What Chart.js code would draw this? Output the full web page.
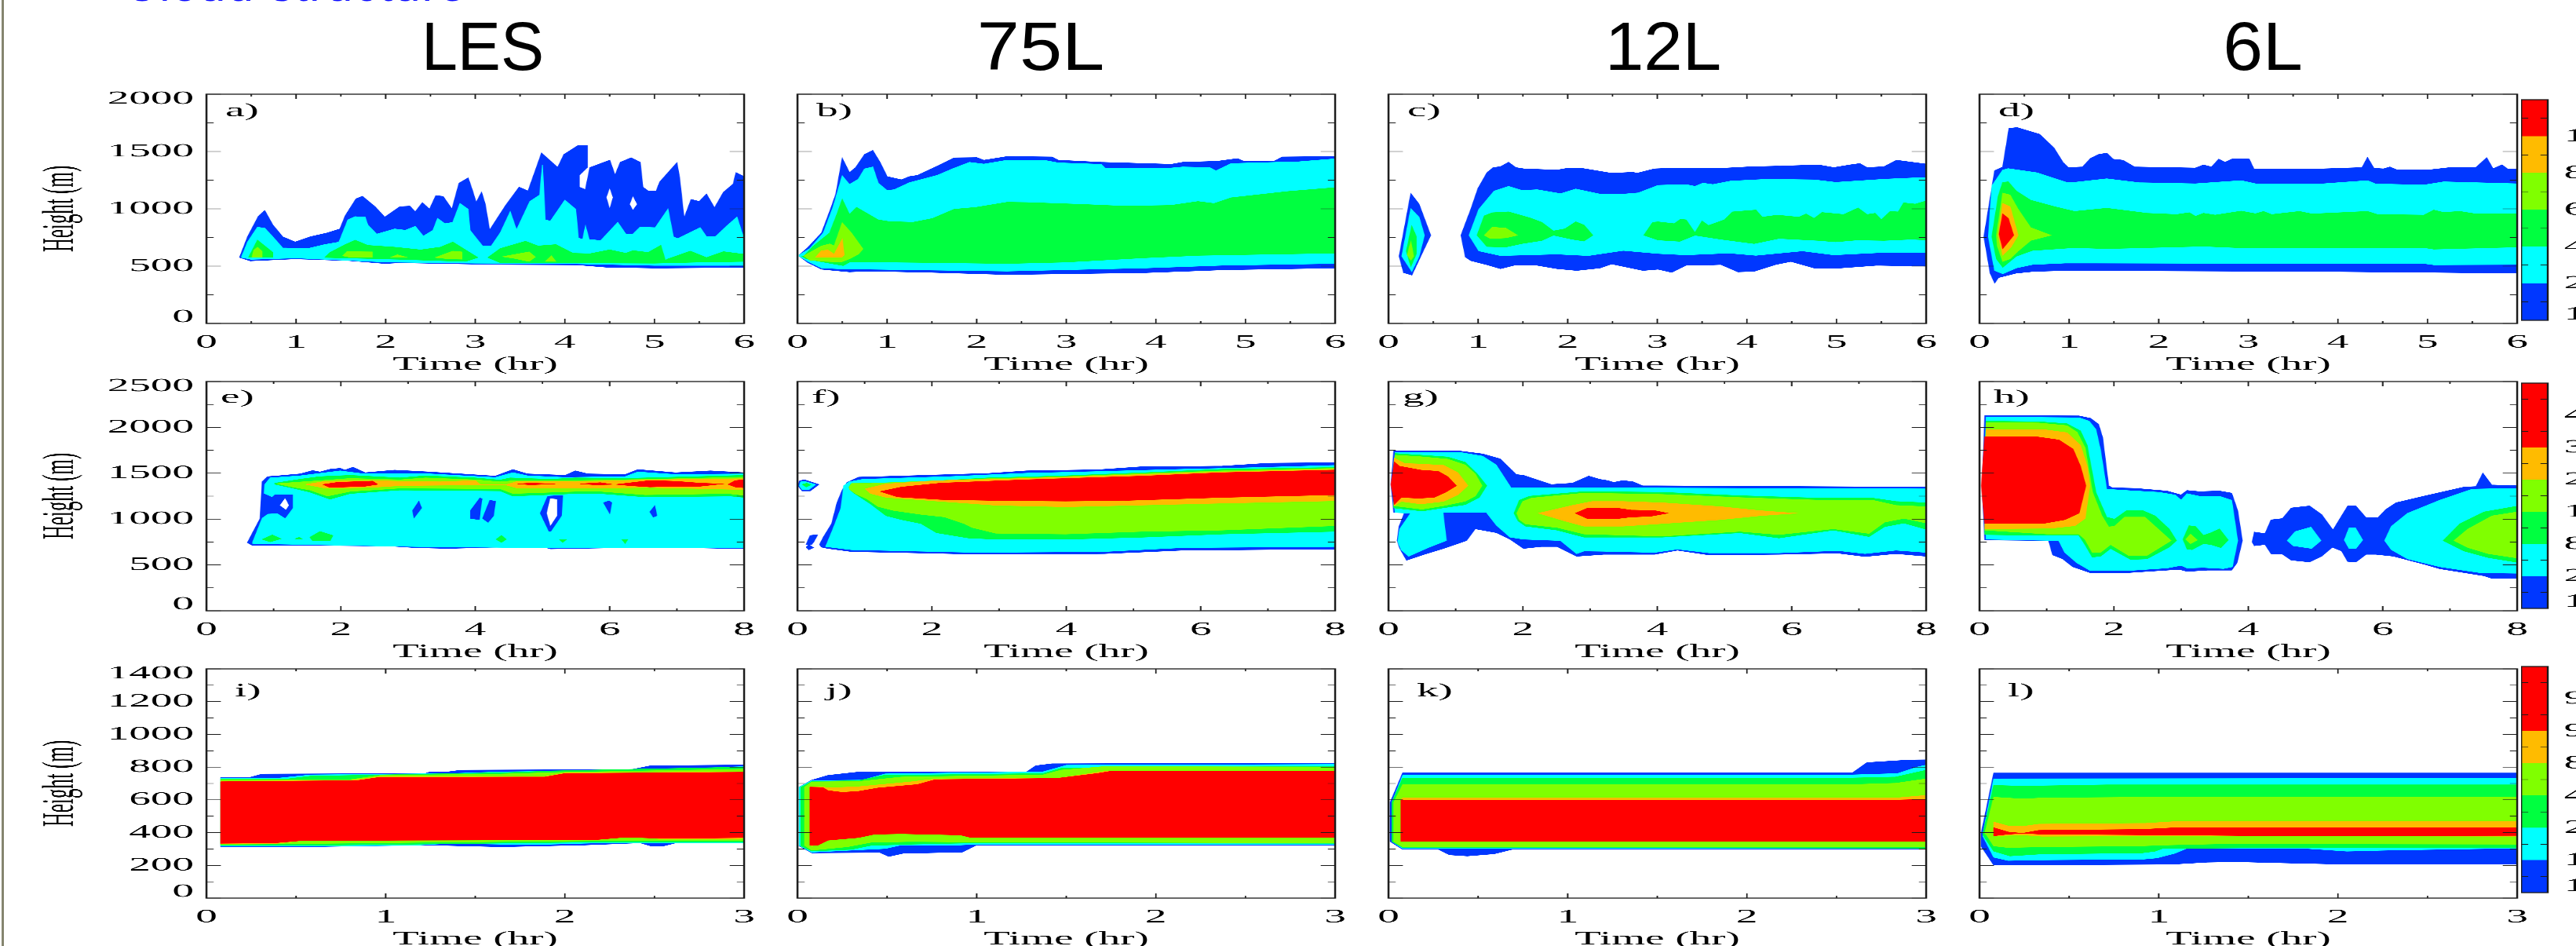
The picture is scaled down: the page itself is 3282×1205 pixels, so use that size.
<!DOCTYPE html>
<html>
<head>
<meta charset="utf-8">
<title>Cloud structure</title>
<script src="https://cdn.jsdelivr.net/npm/chart.js@4"></script>
<style>
  html, body { margin: 0; padding: 0; background: #fff; width: 3282px; height: 1205px; overflow: hidden; }
  canvas { position: absolute; transform-origin: 0 0; }
  .rule { position: absolute; left: 2px; top: 0; width: 3px; height: 1205px; background: #85856f; }
  .head { position: absolute; top: -49px; left: 158px; font: 60px/60px "Liberation Sans"; color: #0a0aff; white-space: nowrap; letter-spacing: 2px; }
  .col { position: absolute; top: 9px; font: 87px/100px "Liberation Sans"; color: #000; white-space: nowrap; }
</style>
</head>
<body>
<div class="rule"></div>
<div class="head">Cloud structure</div>
<div class="col" style="left:615px;transform:translateX(-50%) scaleX(0.95)">LES</div>
<div class="col" style="left:1326px;transform:translateX(-50%) scaleX(1.12)">75L</div>
<div class="col" style="left:2119px;transform:translateX(-50%) scaleX(1.02)">12L</div>
<div class="col" style="left:2883px;transform:translateX(-50%) scaleX(1.05)">6L</div>
<script>
// contour levels, low to high (0 is the white of the holes)
const levelColors = ['#ffffff', '#0037ff', '#00ffff', '#00ff40', '#80ff00', '#ffbb00', '#ff0000'];
const WHITE = 0, BLUE = 1, CYAN = 2, GREEN = 3, LIME = 4, ORANGE = 5, RED = 6;

// axis ticks per row
const timeTicks1 = [0, 1, 2, 3, 4, 5, 6];
const timeMinor1 = [0.5, 1.5, 2.5, 3.5, 4.5, 5.5];
const heightTicks1 = [0, 500, 1000, 1500, 2000];
const heightMinor1 = [250, 750, 1250, 1750];
const timeTicks2 = [0, 2, 4, 6, 8];
const timeMinor2 = [1, 3, 5, 7];
const heightTicks2 = [0, 500, 1000, 1500, 2000, 2500];
const heightMinor2 = [250, 750, 1250, 1750, 2250];
const timeTicks3 = [0, 1, 2, 3];
const timeMinor3 = [0.5, 1.5, 2.5];
const heightTicks3 = [0, 200, 400, 600, 800, 1000, 1200, 1400];
const heightMinor3 = [100, 300, 500, 700, 900, 1100, 1300];

// colour bars, first character only shows at the window edge
const barLabels1 = ['10', '20', '40', '60', '80', '100'];
const barTicks1 = [0.16, 1, 2, 3, 4, 5];
const barLevels1 = [BLUE, CYAN, GREEN, LIME, ORANGE, RED];
const barLabels2 = ['1', '2', '8', '10', '20', '30', '40'];
const barTicks2 = [0.21, 1, 2, 3, 4, 5, 6];
const barLevels2 = [BLUE, CYAN, GREEN, LIME, ORANGE, RED, RED];
const barLabels3 = ['1', '10', '20', '40', '80', '90', '95'];
const barTicks3 = [0.2, 1, 2, 3, 4, 5, 6];
const barLevels3 = [BLUE, CYAN, GREEN, LIME, ORANGE, RED, RED];

// a) LES
const aBlue = [[.37,575],[.46,757],[.58,935],[.65,985],[.74,860],[.85,757],[.99,711],[1.16,757],[1.35,791],[1.49,825],[1.55,940],[1.67,1088],[1.74,1110],[1.88,1020],[1.99,928],[2.16,1020],[2.27,1024],[2.33,974],[2.41,1054],[2.49,997],[2.56,1115],[2.64,1110],[2.74,997],[2.82,1225],[2.92,1270],[2.97,1156],[3.01,1054],[3.07,1145],[3.11,1042],[3.16,814],[3.34,1031],[3.49,1190],[3.59,1156],[3.74,1487],[3.92,1361],[3.99,1475],[4.15,1555],[4.25,1555],[4.25,1361],[4.16,1293],[4.16,1190],[4.23,1168],[4.28,1361],[4.5,1425],[4.56,1293],[4.62,1407],[4.74,1446],[4.84,1407],[4.87,1190],[4.93,1156],[5.02,1156],[5.06,1236],[5.25,1402],[5.28,1270],[5.33,917],[5.41,1083],[5.5,1065],[5.58,1129],[5.67,1008],[5.77,1145],[5.88,1218],[5.91,1316],[6,1282],[6,488],[5.02,483],[4.47,490],[4.13,511],[3.28,513],[2.16,529],[1.99,522],[1.6,547],[.99,563],[.49,545]];
const aHole1 = [[4.47,1100],[4.5,1167],[4.53,1100],[4.5,1020]];
const aHole2 = [[4.73,1040],[4.76,1100],[4.8,1040],[4.76,997]];
const aCyan = [[.39,575],[.46,711],[.57,841],[.65,832],[.74,757],[.85,659],[1.13,654],[1.32,689],[1.48,711],[1.58,905],[1.66,933],[1.77,928],[1.8,860],[1.9,780],[2.1,825],[2.22,814],[2.33,848],[2.42,762],[2.53,814],[2.58,917],[2.66,871],[2.75,883],[2.83,1047],[2.92,997],[2.94,814],[3.08,677],[3.18,677],[3.28,791],[3.39,974],[3.46,814],[3.61,1065],[3.72,1122],[3.75,1384],[3.78,905],[3.84,894],[4,1076],[4.12,997],[4.15,746],[4.2,734],[4.23,848],[4.27,734],[4.4,723],[4.59,882],[4.68,780],[4.76,780],[4.84,841],[5.01,837],[5.15,997],[5.21,757],[5.26,741],[5.51,837],[5.58,757],[5.68,757],[5.82,860],[5.92,928],[6,734],[6,505],[5,505],[4,522],[3,525],[2,535],[1,570],[.5,558]];
const aGreen1 = [[1.32,575],[1.38,620],[1.55,689],[1.66,727],[1.8,682],[2.1,666],[2.39,643],[2.61,666],[2.75,711],[2.89,643],[3.03,575],[2.89,540],[2.16,559]];
const aGreen2 = [[3.14,575],[3.28,654],[3.56,718],[3.7,677],[3.9,689],[4.09,613],[4.28,609],[4.5,643],[4.68,613],[4.76,636],[4.93,620],[5.07,682],[5.12,552],[5.15,563],[5.4,632],[5.58,575],[5.77,627],[6,604],[6,540],[5.5,534],[5,525],[3.84,529],[3.28,529]];
const aGreen3 = [[.47,575],[.57,727],[.74,620],[.74,575]];
const aLime1 = [[.51,577],[.53,640],[.57,665],[.62,630],[.62,577]];
const aLime2 = [[1.52,590],[1.57,627],[1.85,625],[1.85,577],[1.6,577]];
const aLime3 = [[2.05,575],[2.13,600],[2.25,575]];
const aLime4 = [[2.55,575],[2.75,632],[2.85,625],[2.85,560],[2.7,563]];
const aLime5 = [[3.3,583],[3.6,625],[3.67,580],[3.6,540],[3.45,565]];
const aLime6 = [[3.78,540],[3.85,590],[3.9,540]];

// b) 75L
const bBlue = [[.02,597],[.12,666],[.27,791],[.38,1019],[.43,1133],[.5,1441],[.58,1316],[.65,1361],[.75,1475],[.84,1510],[.92,1407],[1,1282],[1.16,1254],[1.25,1282],[1.34,1293],[1.56,1373],[1.75,1446],[2,1448],[2.08,1425],[2.34,1457],[2.84,1453],[2.91,1425],[3.39,1407],[4.17,1389],[4.3,1407],[4.69,1416],[4.91,1439],[4.98,1416],[5.32,1416],[5.41,1453],[6,1457],[6,483],[4.74,467],[3.87,442],[2.34,426],[1.47,445],[.81,456],[.58,449],[.27,472],[.12,529],[.02,586]];
const bCyan = [[.02,597],[.14,655],[.29,791],[.4,1019],[.5,1288],[.58,1213],[.68,1259],[.75,1350],[.84,1366],[.9,1225],[1,1161],[1.08,1168],[1.25,1229],[1.56,1293],[1.73,1350],[1.92,1407],[2.08,1391],[2.34,1425],[2.75,1425],[2.91,1402],[3.39,1389],[3.43,1357],[4.17,1357],[4.3,1366],[4.6,1361],[4.67,1332],[4.84,1396],[5.6,1412],[6,1437],[6,522],[4.74,506],[3.87,483],[2.34,456],[1.47,465],[.81,472],[.58,472],[.27,483],[.12,540],[.02,586]];
const bGreen = [[.07,586],[.18,677],[.36,791],[.44,951],[.5,1083],[.58,951],[.66,1013],[.9,905],[1.03,889],[1.29,883],[1.51,917],[1.75,997],[1.99,1013],[2.34,1058],[2.56,1056],[3.21,1038],[3.65,1024],[4.17,1031],[4.47,1065],[4.65,1047],[4.84,1097],[5.47,1152],[6,1186],[6,613],[4.47,593],[3.87,572],[2.99,534],[2.34,522],[1.47,531],[.81,536],[.58,534],[.51,504],[.25,540],[.1,563],[.05,586]];
const bLime = [[.07,590],[.27,677],[.36,695],[.41,677],[.5,878],[.6,791],[.73,650],[.68,604],[.58,563],[.49,536],[.31,540],[.14,552]];
const bOrange = [[.2,575],[.27,636],[.34,641],[.41,604],[.5,734],[.52,597],[.49,575]];

// c) 12L
const cBlue1 = [[.12,586],[.25,1133],[.34,1042],[.47,769],[.4,654],[.26,422],[.17,442]];
const cCyan1 = [[.15,586],[.25,1001],[.34,928],[.4,769],[.34,586],[.26,454]];
const cGreen1 = [[.2,631],[.26,848],[.31,757],[.31,608],[.25,499]];
const cLime1 = [[.21,597],[.25,711],[.28,586],[.25,552]];
const cBlue2 = [[.81,769],[.92,997],[1,1179],[1.1,1316],[1.17,1361],[1.25,1368],[1.34,1407],[1.42,1361],[1.51,1350],[1.88,1339],[2.01,1357],[2.14,1357],[2.49,1311],[2.73,1320],[2.77,1311],[2.97,1350],[3.19,1357],[3.49,1357],[3.71,1354],[4.06,1368],[4.32,1373],[4.8,1384],[4.97,1361],[5.15,1384],[5.26,1396],[5.34,1361],[5.53,1368],[5.67,1425],[6,1391],[6,499],[5.45,506],[4.97,479],[4.75,483],[4.49,540],[4.32,513],[4.08,454],[3.9,449],[3.71,513],[3.45,506],[3.32,506],[3.16,445],[3.01,472],[2.84,461],[2.49,518],[2.36,483],[2.1,461],[1.88,477],[1.66,506],[1.4,506],[1.25,477],[1.1,511],[.92,547],[.86,579]];
const cCyan2 = [[.9,769],[1.01,997],[1.18,1156],[1.34,1197],[1.49,1161],[1.66,1168],[1.92,1133],[2.09,1174],[2.36,1129],[2.62,1129],[2.79,1140],[3.01,1206],[3.32,1213],[3.42,1197],[3.51,1225],[3.62,1213],[3.82,1243],[4.23,1259],[4.75,1254],[4.99,1232],[5.53,1259],[6,1275],[6,620],[5.45,616],[4.97,597],[4.62,632],[4.1,593],[3.8,613],[3.32,597],[3.01,609],[2.62,636],[2.23,591],[1.88,604],[1.25,591],[1.01,632]];
const cGreen2 = [[.99,769],[1.07,940],[1.16,967],[1.34,974],[1.58,921],[1.71,883],[1.84,807],[1.97,826],[2.09,887],[2.18,860],[2.28,769],[2.18,718],[2.05,734],[1.84,769],[1.71,723],[1.49,696],[1.31,666],[1.1,670]];
const cGreen3 = [[2.85,769],[2.95,883],[3.01,887],[3.19,871],[3.26,910],[3.32,905],[3.42,791],[3.5,894],[3.57,855],[3.75,905],[3.84,974],[4.1,990],[4.17,928],[4.34,946],[4.58,928],[4.66,956],[4.75,917],[4.84,969],[5.08,951],[5.24,1008],[5.34,951],[5.43,962],[5.5,905],[5.6,978],[5.69,974],[5.75,1053],[5.88,1042],[6,1070],[6,727],[5.84,734],[5.53,723],[5.23,727],[4.99,711],[4.8,723],[4.36,741],[4.08,696],[3.71,734],[3.42,769],[3.25,716],[3.01,727]];
const cLime2 = [[1.07,769],[1.16,841],[1.31,832],[1.44,769],[1.31,746],[1.14,739]];

// d) 6L
const dBlue = [[.05,757],[.17,1334],[.26,1366],[.33,1703],[.42,1710],[.67,1651],[.83,1532],[.93,1407],[.99,1361],[1.15,1366],[1.24,1441],[1.33,1475],[1.42,1487],[1.49,1434],[1.6,1425],[1.73,1366],[2.41,1357],[2.5,1384],[2.59,1366],[2.67,1434],[2.74,1407],[2.83,1439],[3.01,1434],[3.06,1350],[3.84,1350],[4.27,1361],[4.33,1448],[4.4,1355],[4.51,1350],[4.58,1366],[4.65,1343],[5,1339],[5.25,1361],[5.54,1361],[5.66,1446],[5.73,1350],[5.83,1384],[5.89,1350],[6,1350],[6,438],[5,445],[3.66,454],[.97,461],[.61,454],[.41,438],[.21,399],[.17,353],[.12,438]];
const dCyan = [[.1,757],[.14,1202],[.26,1339],[.32,1352],[.64,1316],[.97,1232],[1.06,1232],[1.42,1263],[1.78,1229],[2.41,1220],[2.92,1247],[3.08,1220],[3.84,1220],[4.33,1247],[4.42,1218],[4.96,1209],[5.18,1236],[6,1220],[6,513],[5.07,511],[4.96,522],[3.66,522],[.97,527],[.59,513],[.41,483],[.26,433],[.17,461]];
const dGreen = [[.14,757],[.21,1111],[.26,1232],[.32,1236],[.41,1156],[.57,1076],[.84,1019],[1.06,978],[1.42,1006],[1.87,962],[2.2,951],[2.34,967],[2.41,935],[2.5,962],[2.63,946],[2.92,981],[3.08,958],[3.17,978],[3.26,951],[3.57,978],[3.71,956],[4.33,978],[4.44,951],[4.96,946],[5.07,990],[5.18,969],[5.36,978],[5.54,956],[6,958],[6,666],[5.07,648],[4.96,661],[3.66,659],[2.92,659],[2.5,673],[1.42,652],[1.06,661],[.59,636],[.41,586],[.26,490],[.19,563]];
const dLime = [[.19,769],[.26,1138],[.34,1122],[.43,997],[.57,837],[.8,769],[.57,723],[.43,631],[.34,563],[.26,540],[.2,677]];
const dOrange = [[.21,769],[.26,1047],[.34,1019],[.43,769],[.35,666],[.26,597]];
const dRed = [[.22,780],[.26,955],[.32,917],[.38,769],[.32,711],[.26,654]];

// e) LES
const eBlue = [[.61,742],[.8,1007],[.83,1407],[.91,1464],[1.02,1470],[1.39,1493],[1.58,1530],[1.69,1515],[1.84,1544],[1.99,1555],[2.06,1535],[2.18,1567],[2.36,1507],[2.8,1535],[3.33,1515],[4.3,1470],[4.56,1541],[4.78,1493],[5.34,1478],[5.49,1527],[5.68,1493],[6.23,1487],[6.42,1541],[6.98,1507],[7.5,1527],[8,1507],[8,676],[6.7,694],[5.12,674],[4.97,705],[3.6,679],[3.1,688],[2.73,705],[1.02,716],[.69,711]];
const eCyan = [[.69,750],[.83,1007],[.87,1378],[.95,1450],[1.39,1473],[1.99,1527],[2.36,1493],[3.33,1493],[4.3,1455],[4.56,1507],[4.78,1473],[5.34,1455],[6.23,1464],[6.42,1515],[6.98,1487],[8,1493],[8,688],[5.12,685],[3.1,699],[1.02,728],[.69,733]];
const eBlob1 = [[.81,1007],[.85,1278],[.98,1236],[1.02,1264],[1.28,1264],[1.28,1121],[1.17,1013],[1.06,1064],[.91,1059]];
const eHole1 = [[1.1,1150],[1.17,1221],[1.22,1150],[1.18,1107]];
const eBlob2 = [[3.07,1093],[3.16,1193],[3.2,1121],[3.09,1016]];
const eBlob3 = [[3.93,1093],[4.07,1230],[4.1,1221],[4.07,1079],[4.06,993],[3.93,1007]];
const eBlob4 = [[4.11,1007],[4.22,1207],[4.3,1193],[4.27,1036],[4.19,965]];
const eBlob5 = [[5.1,865],[4.97,1064],[5.08,1250],[5.3,1258],[5.28,1036],[5.12,865]];
const eHole2 = [[5.07,1064],[5.12,1221],[5.21,1216],[5.21,1036],[5.12,936]];
const eBlob6 = [[5.91,1179],[5.99,1199],[6.03,1179],[6,1064]];
const eBlob7 = [[6.6,1079],[6.67,1144],[6.7,1036],[6.65,1022]];
const eSpot1 = [[.83,779],[.98,828],[1.11,785],[.95,751]];
const eSpot2 = [[1.32,785],[1.38,802],[1.43,779]];
const eSpot3 = [[1.54,802],[1.69,865],[1.88,822],[1.84,765],[1.58,765]];
const eSpot4 = [[4.31,779],[4.39,822],[4.46,779],[4.39,745]];
const eSpot5 = [[5.25,779],[5.36,779],[5.3,745]];
const eSpot6 = [[6.18,779],[6.27,779],[6.23,736]];
const eGreen = [[1.02,1393],[1.39,1435],[1.69,1464],[2.14,1478],[2.88,1450],[3.26,1473],[4,1450],[4.37,1427],[4.52,1450],[5.12,1435],[5.49,1450],[6.23,1444],[6.98,1458],[8,1478],[8,1236],[7.8,1250],[6.53,1241],[5.86,1278],[5.49,1278],[4.56,1250],[4.37,1307],[2.88,1316],[2.14,1278],[1.84,1216],[1.54,1293],[1.24,1344],[1.02,1378]];
const eLime = [[1.04,1387],[1.54,1413],[2.14,1444],[2.88,1430],[3.26,1450],[4,1430],[4.37,1407],[4.6,1421],[5.49,1421],[6.6,1435],[8,1458],[8,1259],[7.76,1278],[6.53,1264],[5.86,1301],[5.49,1301],[4.56,1278],[4.37,1330],[2.88,1336],[2.14,1301],[1.8,1250],[1.54,1316],[1.24,1355]];
const eOrange = [[1.47,1378],[1.77,1413],[2.44,1421],[2.88,1413],[3.48,1407],[4,1421],[4.07,1378],[4.45,1373],[4.63,1413],[5.49,1407],[6.6,1430],[8,1441],[8,1321],[6.6,1344],[5.49,1336],[4.63,1336],[4.45,1373],[4.07,1373],[2.88,1364],[2.44,1344],[1.77,1336]];
const eRed1 = [[1.73,1378],[1.95,1401],[2.47,1415],[2.55,1378],[2.36,1358],[1.84,1344]];
const eRed2 = [[4.63,1384],[4.82,1393],[5.19,1384],[4.82,1373]];
const eRed3 = [[5.56,1384],[5.86,1398],[6.05,1378],[5.79,1373]];
const eRed4 = [[6.09,1378],[6.6,1421],[6.98,1413],[7.35,1393],[7.68,1384],[7.35,1358],[6.98,1358],[6.6,1350],[6.3,1364]];
const eRed5 = [[7.76,1378],[7.87,1421],[8,1430],[8,1341],[7.87,1350]];

// f) 75L
const fBlue1 = [[.03,1416],[.1,1430],[.32,1378],[.19,1307],[.07,1307],[.01,1364]];
const fCyan1 = [[.05,1407],[.1,1413],[.27,1378],[.17,1321],[.07,1321],[.03,1364]];
const fGreen1 = [[.07,1378],[.14,1393],[.2,1373],[.13,1350]];
const fBlue2 = [[.13,722],[.19,822],[.3,830],[.24,750],[.21,722]];
const fBlue3 = [[.13,693],[.17,722],[.24,688],[.17,665]];
const fBlue4 = [[.33,722],[.39,808],[.51,950],[.59,1179],[.67,1321],[.74,1401],[.91,1458],[1.49,1470],[2.83,1498],[3.41,1527],[4.46,1538],[5.1,1570],[6.32,1578],[7.01,1610],[8,1615],[8,673],[5.73,659],[4.57,622],[3.41,616],[2.66,616],[1.96,628],[.8,645],[.45,679],[.36,693]];
const fCyan2 = [[.42,699],[.53,893],[.65,1122],[.69,1364],[.77,1407],[.97,1435],[2.25,1464],[3.41,1501],[4.57,1521],[5.73,1544],[6.9,1564],[8,1587],[8,699],[5.73,688],[4.57,645],[2.66,636],[.8,665]];
const fGreen2 = [[.77,1350],[.8,1387],[1.09,1393],[1.67,1401],[2.83,1450],[3.99,1473],[5.15,1507],[6.32,1544],[8,1564],[8,865],[6.32,836],[5.15,802],[3.99,779],[2.95,779],[2.54,793],[2.07,850],[1.84,950],[1.55,993],[1.32,1036],[1.09,1164],[.85,1278],[.78,1321]];
const fLime = [[.77,1350],[.81,1390],[1.09,1390],[1.67,1407],[2.83,1441],[3.99,1464],[5.15,1498],[6.32,1527],[8,1555],[8,927],[6.32,879],[5.15,865],[3.99,836],[2.95,845],[2.6,907],[2.48,950],[2.19,1022],[1.84,1050],[1.43,1093],[1.2,1136],[1.03,1221],[.88,1270],[.78,1321]];
const fOrange = [[1.01,1330],[1.32,1384],[2.13,1421],[3.41,1444],[5.15,1487],[6.32,1515],[8,1544],[8,1199],[6.32,1173],[3.99,1133],[2.95,1150],[2.13,1193],[1.32,1236],[1.09,1278]];
const fRed = [[1.23,1301],[1.55,1350],[2.13,1393],[3.41,1430],[5.15,1470],[6.32,1507],[8,1535],[8,1264],[6.32,1236],[4.87,1202],[3.99,1196],[2.95,1202],[2.13,1213],[1.49,1241]];

// g) 12L
const gBlue = [[.04,1378],[.08,1744],[1.05,1744],[1.4,1712],[1.66,1658],[1.9,1487],[2.01,1478],[2.42,1378],[2.74,1393],[2.98,1470],[3.14,1435],[3.26,1421],[3.35,1401],[3.49,1421],[3.64,1407],[3.78,1364],[8,1350],[8,594],[7.55,622],[7.09,591],[6.68,628],[5.81,614],[4.77,608],[4.3,659],[3.96,614],[3.2,614],[2.8,594],[2.51,699],[2.27,699],[2.01,679],[1.81,779],[1.61,850],[1.29,893],[1.16,765],[.82,679],[.53,614],[.27,551],[.17,679],[.13,765],[.16,922],[.24,1070],[.08,1070]];
const gCyan = [[.06,1378],[.1,1730],[1.05,1730],[1.4,1687],[1.6,1592],[1.82,1344],[8,1330],[8,636],[7.55,659],[7.09,622],[6.68,656],[5.81,631],[4.77,631],[4.3,671],[3.96,636],[3.2,648],[2.91,651],[2.8,622],[2.56,765],[2.01,779],[1.81,802],[1.61,930],[1.46,1070],[.81,1070],[.86,765],[.59,688],[.3,594],[.19,665],[.14,756],[.17,893],[.33,1064],[.1,1070]];
const gGreen1 = [[.08,1378],[.1,1716],[.48,1698],[.88,1678],[1.14,1621],[1.32,1493],[1.46,1364],[1.35,1236],[1.14,1156],[.82,1122],[.5,1087],[.08,1121]];
const gGreen2 = [[1.87,1064],[1.95,1207],[2.1,1250],[2.91,1301],[4.07,1293],[5.23,1256],[6.39,1230],[7.2,1230],[7.55,1193],[8,1179],[8,888],[7.67,956],[7.38,916],[7.15,808],[6.62,879],[5.81,793],[5.23,850],[4.07,802],[2.91,802],[2.51,879],[2.04,922],[1.93,979]];
const gLime1 = [[.08,1378],[.1,1698],[.48,1681],[.88,1655],[1.14,1592],[1.29,1493],[1.39,1364],[1.29,1250],[1.14,1193],[.82,1144],[.5,1107],[.08,1144]];
const gLime2 = [[1.91,1064],[2,1193],[2.13,1230],[2.91,1284],[4.07,1270],[5.23,1236],[6.39,1207],[7.2,1207],[7.55,1150],[8,1136],[8,956],[7.67,1007],[7.38,965],[7.15,842],[6.62,893],[5.81,830],[5.23,865],[4.07,813],[2.91,836],[2.51,907],[2.04,945],[1.95,993]];
const gOrange1 = [[.05,1378],[.09,1664],[.24,1607],[.48,1601],[.82,1587],[1.03,1507],[1.18,1364],[1.03,1264],[.82,1193],[.48,1164],[.19,1193],[.09,1150]];
const gRed1 = [[.04,1378],[.09,1621],[.16,1578],[.48,1535],[.74,1521],[.88,1464],[1.01,1364],[.85,1293],[.68,1236],[.45,1227],[.19,1236],[.09,1164]];
const gOrange2 = [[2.23,1064],[2.74,1150],[3.03,1193],[3.49,1193],[4.07,1179],[4.94,1136],[5.52,1093],[6.07,1064],[5.52,1036],[4.94,993],[4.07,950],[3.49,922],[2.91,922],[2.62,979]];
const gRed2 = [[2.78,1064],[2.97,1122],[3.38,1122],[3.61,1099],[3.96,1093],[4.16,1064],[3.9,1030],[3.61,1022],[3.38,1002],[2.97,1002]];

// h) 6L
const hBlue1 = [[.04,1350],[.08,2129],[1.48,2126],[1.65,2100],[1.77,2035],[1.83,1892],[1.92,1364],[1.98,1341],[2.31,1336],[2.79,1307],[3,1264],[3.09,1313],[3.27,1301],[3.57,1307],[3.75,1284],[3.84,1093],[3.91,765],[3.83,522],[3.75,442],[3.39,442],[3.09,428],[2.97,451],[2.79,442],[2.19,414],[1.65,414],[1.39,479],[1.24,565],[1.09,608],[1.03,765],[.08,771]];
const hCyan1 = [[.07,1350],[.1,2115],[1.48,2106],[1.63,2069],[1.73,1978],[1.8,1749],[1.89,1327],[2.13,1316],[2.67,1293],[2.91,1264],[3,1207],[3.09,1278],[3.27,1250],[3.57,1250],[3.75,1207],[3.84,765],[3.76,479],[3.63,459],[3.33,471],[3.09,465],[3,494],[2.79,465],[2.19,437],[1.65,437],[1.45,522],[1.27,636],[1.18,765],[.1,779]];
const hGreen1 = [[.08,1350],[.1,2069],[.88,2063],[1.3,2041],[1.5,1963],[1.6,1806],[1.73,1293],[1.89,1022],[2.01,999],[2.19,1093],[2.43,1093],[2.61,1036],[2.82,893],[2.93,765],[2.82,693],[2.49,565],[2.25,559],[1.95,679],[1.8,594],[1.68,585],[1.57,722],[1.48,822],[1,822],[.08,830]];
const hLime1 = [[.08,1350],[.1,2055],[.88,2049],[1.3,2021],[1.45,1949],[1.57,1778],[1.68,1293],[1.82,1036],[1.92,916],[2.01,922],[2.16,1022],[2.46,1022],[2.85,765],[2.49,602],[2.22,602],[1.95,722],[1.8,636],[1.68,636],[1.57,779],[1.48,836],[1,836],[.08,879]];
const hOrange = [[.08,1350],[.1,1978],[.94,1978],[1.3,1943],[1.5,1806],[1.6,1578],[1.64,1364],[1.57,1007],[1.42,927],[1.06,899],[.08,893]];
const hRed = [[.03,1364],[.08,1901],[.82,1901],[1.18,1864],[1.39,1764],[1.5,1578],[1.58,1364],[1.48,1064],[1.27,993],[.94,950],[.08,950]];
const hGreen2 = [[3.03,779],[3.12,928],[3.21,922],[3.33,822],[3.44,850],[3.57,893],[3.7,771],[3.59,688],[3.44,722],[3.33,731],[3.16,665],[3.09,673]];
const hLime2 = [[3.07,779],[3.14,836],[3.24,771],[3.14,731]];
const hBlue2 = [[4.06,750],[4.09,859],[4.25,842],[4.34,993],[4.51,1007],[4.64,1122],[4.91,1144],[5.09,1050],[5.26,879],[5.39,1036],[5.48,1142],[5.6,1142],[5.75,1016],[5.93,1016],[6.05,1107],[6.2,1179],[6.61,1250],[7.21,1350],[7.39,1356],[7.49,1501],[7.62,1373],[8,1364],[8,351],[7.63,351],[7.51,380],[6.85,457],[6.61,508],[6.16,594],[5.9,614],[5.75,614],[5.6,531],[5.48,537],[5.39,651],[5.25,693],[5.09,594],[4.91,531],[4.64,551],[4.51,616],[4.34,622],[4.25,722],[4.09,708]];
const hCyan2 = [[4.58,765],[4.7,865],[4.93,913],[5.08,765],[4.94,679],[4.67,708]];
const hCyan3 = [[5.43,771],[5.5,902],[5.59,908],[5.7,771],[5.6,679],[5.5,679]];
const hCyan4 = [[6.03,765],[6.13,922],[6.37,1064],[6.85,1207],[7.33,1327],[8,1336],[8,408],[7.45,414],[6.85,479],[6.37,565],[6.13,665]];
const hGreen3 = [[6.9,765],[7.15,950],[7.51,1079],[8,1142],[8,528],[7.57,579],[7.21,651]];
const hLime3 = [[7.06,765],[7.27,893],[7.63,1036],[8,1079],[8,574],[7.57,622],[7.27,688]];

// i) LES
const iBlue = [[.08,737],[.24,737],[.31,758],[1.22,761],[1.25,772],[1.33,769],[1.42,782],[2.37,785],[2.48,809],[3,813],[3,337],[2.62,337],[2.55,318],[2.48,318],[2.42,337],[2.11,324],[1.65,313],[1.22,324],[.52,312],[.08,312]];
const iCyan = [[.08,732],[.41,734],[.58,753],[1.36,761],[1.65,772],[2.39,782],[2.62,788],[3,804],[3,337],[2.2,337],[1.92,329],[1.64,329],[1.36,334],[1.14,321],[.08,316]];
const iGreen = [[.08,727],[.44,727],[.58,745],[1.22,758],[1.64,766],[1.92,777],[3,801],[3,342],[2.2,342],[1.14,329],[.47,321],[.08,321]];
const iLime = [[.08,724],[.8,724],[.97,750],[1.64,758],[2,769],[3,788],[3,350],[2.2,350],[1.22,340],[.52,332],[.08,328]];
const iOrange = [[.08,714],[.8,718],[.96,740],[1.89,743],[2,764],[3,772],[3,366],[2.95,360],[2.56,360],[2.34,377],[2.17,360],[.52,350],[.38,332],[.08,332]];
const iRed = [[.08,711],[.84,718],[.96,737],[1.89,740],[2,761],[3,769],[3,369],[2.56,364],[2.34,372],[2.17,356],[1.08,353],[.52,350],[.38,337],[.08,334]];

// j) 75L
const jBlue = [[.01,678],[.08,721],[.17,750],[.33,769],[1.28,772],[1.33,809],[1.42,821],[3,825],[3,324],[1,324],[.92,281],[.59,273],[.51,254],[.46,278],[.08,276],[.01,318]];
const jCyan = [[.01,678],[.08,718],[.36,721],[.49,759],[1.37,772],[1.44,793],[1.5,812],[3,817],[3,329],[1,329],[.91,324],[.58,324],[.49,302],[.08,280],[.01,321]];
const jGreen = [[.02,678],[.08,713],[.34,718],[.48,750],[1.37,761],[1.47,793],[3,806],[3,334],[1,337],[.63,329],[.41,321],[.3,297],[.08,287],[.02,318]];
const jLime = [[.04,678],[.08,710],[.34,713],[.58,740],[1.37,753],[1.47,782],[1.71,804],[3,801],[3,337],[1,342],[.63,345],[.41,340],[.28,313],[.08,292],[.04,321]];
const jOrange = [[.07,681],[.14,681],[.17,673],[.34,681],[.63,710],[.71,721],[.78,729],[1.45,732],[1.71,774],[3,777],[3,369],[.97,369],[.86,398],[.58,409],[.43,401],[.34,372],[.17,353],[.08,318]];
const jRed = [[.07,678],[.14,676],[.17,657],[.25,646],[.34,652],[.45,673],[.67,694],[.77,724],[1.45,732],[1.67,761],[1.74,774],[3,777],[3,369],[.97,369],[.91,385],[.58,393],[.43,390],[.34,369],[.17,353],[.11,321],[.07,321]];

// k) 12L
const kBlue = [[.01,585],[.08,766],[2.59,766],[2.67,828],[2.9,844],[3,845],[3,297],[.69,297],[.59,270],[.44,257],[.34,264],[.28,297],[.08,297],[.01,345]];
const kCyan = [[.02,585],[.08,750],[2.59,753],[2.84,761],[2.95,801],[3,813],[3,302],[.08,302],[.02,345]];
const kGreen = [[.02,585],[.08,734],[2.59,734],[2.83,740],[3,782],[3,305],[.08,308],[.02,345]];
const kLime = [[.03,585],[.08,694],[2.59,694],[2.83,702],[3,729],[3,313],[.08,313],[.03,345]];
const kOrange = [[.07,601],[.08,612],[2.83,612],[3,628],[3,345],[.07,345]];
const kRed = [[.07,598],[2.83,599],[3,604],[3,345],[.07,345]];

// l) 6L
const lBlue = [[.01,396],[.08,764],[3,764],[3,206],[2.05,206],[1.61,217],[1.43,222],[1.27,219],[1.07,206],[.08,201],[.01,316]];
const lCyan = [[.02,396],[.08,729],[3,732],[3,305],[2.28,292],[2.05,286],[1.83,302],[1.16,305],[1.09,273],[.99,245],[.91,237],[.35,233],[.16,229],[.08,249],[.02,377]];
const lGreen = [[.02,396],[.08,689],[.24,684],[.71,692],[3,692],[3,308],[1.61,308],[1.02,302],[.98,286],[.91,276],[.33,268],[.17,257],[.08,286],[.02,385]];
const lLime = [[.03,396],[.08,617],[.24,606],[.35,612],[.93,617],[3,618],[3,329],[1.38,332],[1.05,324],[.89,318],[.35,313],[.16,308],[.08,318],[.04,385]];
const lOrange = [[.08,465],[.16,441],[.24,438],[.33,452],[.93,457],[1.09,468],[3,468],[3,377],[1.61,380],[.93,380],[.35,377],[.24,385],[.08,380]];
const lRed = [[.08,430],[.16,404],[.24,396],[.33,414],[.91,420],[1.09,430],[3,430],[3,382],[1.61,380],[1.09,385],[.35,390],[.24,396],[.16,390],[.08,380]];

// paint order, later entries lie on top
const panels = {
  a: [[BLUE,aBlue],[WHITE,aHole1],[WHITE,aHole2],[CYAN,aCyan],[GREEN,aGreen1],[GREEN,aGreen2],[GREEN,aGreen3],[LIME,aLime1],[LIME,aLime2],[LIME,aLime3],[LIME,aLime4],[LIME,aLime5],[LIME,aLime6]],
  b: [[BLUE,bBlue],[CYAN,bCyan],[GREEN,bGreen],[LIME,bLime],[ORANGE,bOrange]],
  c: [[BLUE,cBlue1],[CYAN,cCyan1],[GREEN,cGreen1],[LIME,cLime1],[BLUE,cBlue2],[CYAN,cCyan2],[GREEN,cGreen2],[GREEN,cGreen3],[LIME,cLime2]],
  d: [[BLUE,dBlue],[CYAN,dCyan],[GREEN,dGreen],[LIME,dLime],[ORANGE,dOrange],[RED,dRed]],
  e: [[BLUE,eBlue],[CYAN,eCyan],[BLUE,eBlob1],[WHITE,eHole1],[BLUE,eBlob2],[BLUE,eBlob3],[BLUE,eBlob4],[BLUE,eBlob5],[WHITE,eHole2],[BLUE,eBlob6],[BLUE,eBlob7],[GREEN,eSpot1],[GREEN,eSpot2],[GREEN,eSpot3],[GREEN,eSpot4],[GREEN,eSpot5],[GREEN,eSpot6],[GREEN,eGreen],[LIME,eLime],[ORANGE,eOrange],[RED,eRed1],[RED,eRed2],[RED,eRed3],[RED,eRed4],[RED,eRed5]],
  f: [[BLUE,fBlue1],[CYAN,fCyan1],[GREEN,fGreen1],[BLUE,fBlue2],[BLUE,fBlue3],[BLUE,fBlue4],[CYAN,fCyan2],[GREEN,fGreen2],[LIME,fLime],[ORANGE,fOrange],[RED,fRed]],
  g: [[BLUE,gBlue],[CYAN,gCyan],[GREEN,gGreen1],[GREEN,gGreen2],[LIME,gLime1],[LIME,gLime2],[ORANGE,gOrange1],[RED,gRed1],[ORANGE,gOrange2],[RED,gRed2]],
  h: [[BLUE,hBlue1],[CYAN,hCyan1],[GREEN,hGreen1],[LIME,hLime1],[ORANGE,hOrange],[RED,hRed],[GREEN,hGreen2],[LIME,hLime2],[BLUE,hBlue2],[CYAN,hCyan2],[CYAN,hCyan3],[CYAN,hCyan4],[GREEN,hGreen3],[LIME,hLime3]],
  i: [[BLUE,iBlue],[CYAN,iCyan],[GREEN,iGreen],[LIME,iLime],[ORANGE,iOrange],[RED,iRed]],
  j: [[BLUE,jBlue],[CYAN,jCyan],[GREEN,jGreen],[LIME,jLime],[ORANGE,jOrange],[RED,jRed]],
  k: [[BLUE,kBlue],[CYAN,kCyan],[GREEN,kGreen],[LIME,kLime],[ORANGE,kOrange],[RED,kRed]],
  l: [[BLUE,lBlue],[CYAN,lCyan],[GREEN,lGreen],[LIME,lLime],[ORANGE,lOrange],[RED,lRed]]
};

// page layout, the original is stretched sideways so canvases are too
const STRETCH = 945 / 412;
const LOGICAL_W = 412;
const PLOT_W = 685 / STRETCH;
const PAD_LEFT = 220 / STRETCH;
const FONT = 'Liberation Serif';
const colLeft = [263, 1016, 1769, 2522];
const rows = [
  { top: 120, h: 292, xMax: 6, yMax: 2000, xTicks: timeTicks1, xMinor: timeMinor1, yTicks: heightTicks1, yMinor: heightMinor1, names: 'abcd', dx: 24, baseline: 28 },
  { top: 486, h: 292, xMax: 8, yMax: 2500, xTicks: timeTicks2, xMinor: timeMinor2, yTicks: heightTicks2, yMinor: heightMinor2, names: 'efgh', dx: 18, baseline: 27 },
  { top: 852, h: 292, xMax: 3, yMax: 1400, xTicks: timeTicks3, xMinor: timeMinor3, yTicks: heightTicks3, yMinor: heightMinor3, names: 'ijkl', dx: 36, baseline: 35 }
];
const colourBars = [
  { top: 127, h: 281, levels: barLevels1, ticks: barTicks1, labels: barLabels1 },
  { top: 488, h: 287, levels: barLevels2, ticks: barTicks2, labels: barLabels2 },
  { top: 849, h: 288, levels: barLevels3, ticks: barTicks3, labels: barLabels3 }
];

// frame and inward ticks on all four sides, drawn off the scales
const framePlugin = {
  id: 'frameTicks',
  afterDatasetsDraw(chart, args, opts) {
    const { ctx, chartArea: a, scales } = chart;
    ctx.save();
    ctx.strokeStyle = '#1a1a1a';
    ctx.lineWidth = 0.8;
    const tick = (x1, y1, x2, y2) => { ctx.beginPath(); ctx.moveTo(x1, y1); ctx.lineTo(x2, y2); ctx.stroke(); };
    (opts.xMajor || []).forEach(v => { const x = scales.x.getPixelForValue(v); tick(x, a.bottom, x, a.bottom - 6); tick(x, a.top, x, a.top + 6); });
    (opts.xMinor || []).forEach(v => { const x = scales.x.getPixelForValue(v); tick(x, a.bottom, x, a.bottom - 3); tick(x, a.top, x, a.top + 3); });
    (opts.yMajor || []).forEach(v => { const y = scales.y.getPixelForValue(v); tick(a.left, y, a.left + 8, y); tick(a.right, y, a.right - 8, y); });
    (opts.yMinor || []).forEach(v => { const y = scales.y.getPixelForValue(v); tick(a.left, y, a.left + 4, y); tick(a.right, y, a.right - 4, y); });
    ctx.lineWidth = 1.1;
    ctx.strokeRect(a.left, a.top, a.right - a.left, a.bottom - a.top);
    if (opts.letter) {
      ctx.fillStyle = '#000';
      ctx.font = '24px "' + FONT + '"';
      ctx.textBaseline = 'alphabetic';
      ctx.fillText(opts.letter, a.left + opts.dx / STRETCH, a.top + opts.baseline);
    }
    ctx.restore();
  }
};

function contourDatasets(contours) {
  return contours.map(([level, pts], i) => ({
    data: [...pts, pts[0]].map(p => ({ x: p[0], y: p[1] })),
    borderColor: levelColors[level],
    backgroundColor: levelColors[level],
    borderWidth: 0.5,
    borderDash: [10000, 0], // solid, but keeps Chart.js off its fast path that merges points per pixel column
    pointRadius: 0,
    tension: 0,
    fill: 'shape',
    order: -i
  }));
}

function addCanvas(left, top) {
  const c = document.createElement('canvas');
  c.style.left = left + 'px';
  c.style.top = top + 'px';
  c.style.transform = 'scaleX(' + STRETCH + ')';
  document.body.appendChild(c);
  return c;
}

function drawPanel(name, row, col) {
  const first = col === 0;
  const canvas = addCanvas(colLeft[col] - 220, row.top - 30);
  canvas.width = LOGICAL_W;
  canvas.height = 389;
  // top and bottom height labels sit a little inside the frame
  const nudgeTop = row.yMax * 6 / row.h;
  const nudgeBottom = row.yMax * 8 / row.h;
  new Chart(canvas, {
    type: 'line',
    data: { datasets: contourDatasets(panels[name]) },
    options: {
      responsive: false,
      animation: false,
      devicePixelRatio: 3,
      events: [],
      layout: { padding: { top: 30, right: LOGICAL_W - PAD_LEFT - PLOT_W, left: 0, bottom: 0 } },
      plugins: {
        legend: { display: false },
        tooltip: { enabled: false },
        frameTicks: { xMajor: row.xTicks, xMinor: row.xMinor, yMajor: row.yTicks, yMinor: row.yMinor, letter: name + ')', dx: row.dx, baseline: row.baseline }
      },
      scales: {
        x: {
          type: 'linear', min: 0, max: row.xMax,
          grid: { display: false, drawTicks: false },
          border: { display: false },
          afterBuildTicks: axis => { axis.ticks = row.xTicks.map(v => ({ value: v })); },
          afterFit: axis => { axis.height = 67; },
          ticks: { color: '#000', padding: 10, maxRotation: 0, autoSkip: false, font: { family: FONT, size: 24 }, callback: v => String(v) },
          title: { display: true, text: 'Time (hr)', color: '#000', font: { family: FONT, size: 24 }, padding: 0 }
        },
        y: {
          type: 'linear', min: 0, max: row.yMax,
          grid: { display: false, drawTicks: false },
          border: { display: false },
          afterBuildTicks: axis => {
            axis.ticks = row.yTicks.map(v => ({ value: v === 0 ? nudgeBottom : v === row.yMax ? v - nudgeTop : v }));
          },
          afterFit: axis => { axis.width = PAD_LEFT; },
          ticks: { display: first, color: '#000', padding: 7, autoSkip: false, font: { family: FONT, size: 24 }, callback: (v, i) => String(row.yTicks[i]) },
          title: { display: first, text: 'Height (m)', color: '#000', font: { family: FONT, size: 25 }, padding: 0 }
        }
      }
    },
    plugins: [framePlugin]
  });
}

function drawColourBar(bar) {
  const canvas = addCanvas(3212, bar.top - 24);
  canvas.width = 40;
  canvas.height = bar.h + 48;
  const minorTicks = bar.levels.map((_, i) => i + 0.5);
  new Chart(canvas, {
    type: 'bar',
    data: {
      labels: [''],
      datasets: bar.levels.map((level, i) => ({
        data: [1], backgroundColor: levelColors[level], barPercentage: 1, categoryPercentage: 1, stack: 'bar', order: i
      }))
    },
    options: {
      responsive: false,
      animation: false,
      devicePixelRatio: 3,
      events: [],
      layout: { padding: { top: 24, bottom: 24, left: 0, right: 0 } },
      plugins: {
        legend: { display: false },
        tooltip: { enabled: false },
        frameTicks: { yMinor: minorTicks }
      },
      scales: {
        x: { stacked: true, display: false },
        y: {
          stacked: true, position: 'right', min: 0, max: bar.levels.length,
          grid: { display: false, drawTicks: false },
          border: { display: false },
          afterBuildTicks: axis => { axis.ticks = bar.ticks.map(v => ({ value: v })); },
          afterFit: axis => { axis.width = 40 - 34 / STRETCH; },
          ticks: { color: '#000', padding: 9, autoSkip: false, font: { family: FONT, size: 24 }, callback: (v, i) => bar.labels[i] }
        }
      }
    },
    plugins: [framePlugin]
  });
}

rows.forEach(row => {
  [...row.names].forEach((name, col) => drawPanel(name, row, col));
});
colourBars.forEach(drawColourBar);
</script>
</body>
</html>
